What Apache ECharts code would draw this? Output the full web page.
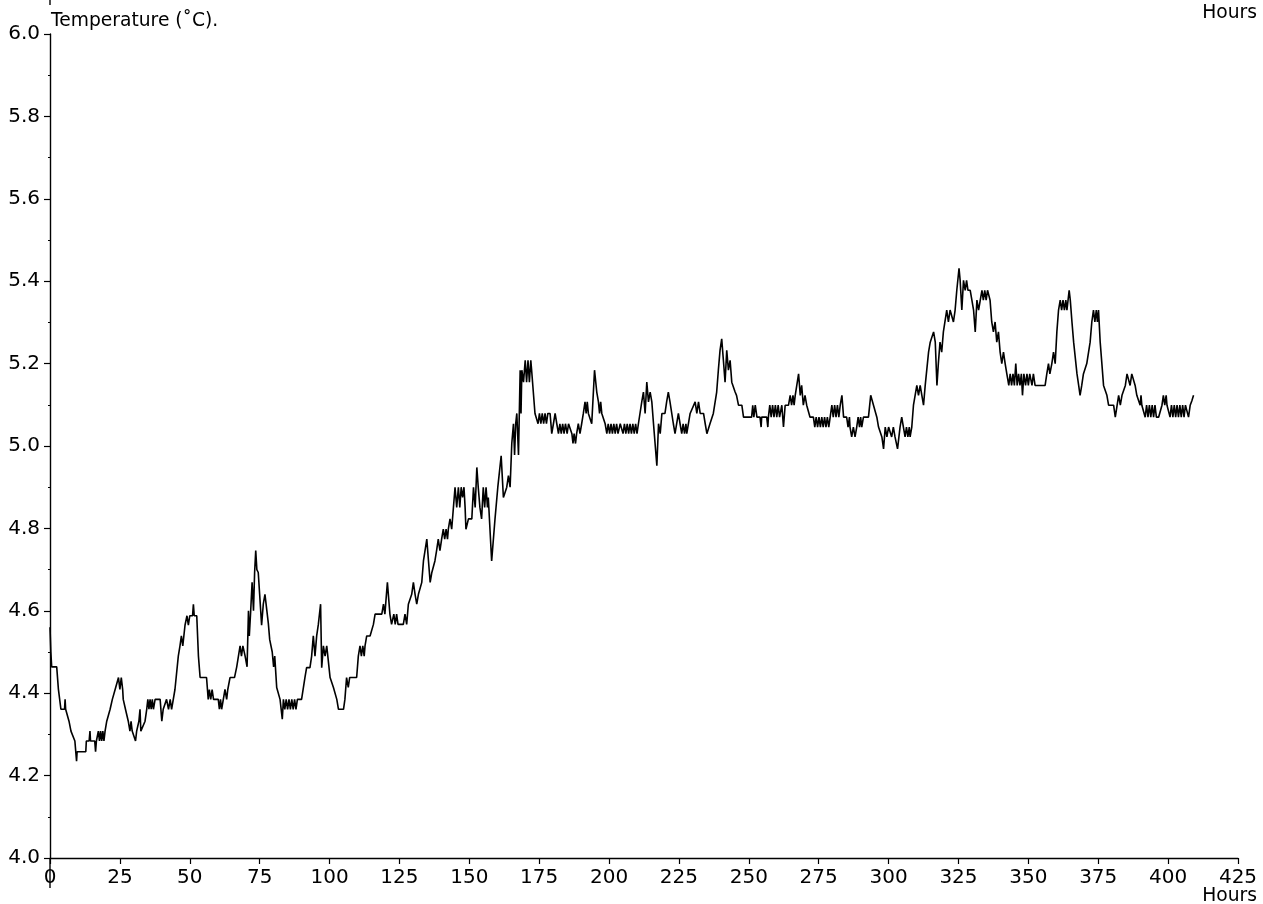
<!DOCTYPE html>
<html>
<head>
<meta charset="utf-8">
<script src="https://cdn.jsdelivr.net/npm/echarts@6/dist/echarts.min.js"></script>
<style>
html,body{margin:0;padding:0;background:#fff;}
#chart{width:1263px;height:904px;}
</style>
</head>
<body>
<div id="chart"></div>
<script>
// ---- Data ----
const yAxisTitle = "Temperature (˚C).";
const xAxisTitle = "Hours";
const xMin = 0, xMax = 425, xStep = 25;
const yMin = 4.0, yMax = 6.0, yStep = 0.2;

// [hour, temperature °C]
const readings = [
[0,4.56],[0.3,4.50],[0.6,4.464],[2.4,4.464],[3.0,4.41],[3.9,4.361],[5.2,4.361],[5.4,4.385],[5.6,4.361],[6.0,4.361],
[6.8,4.332],[7.5,4.308],[8.0,4.308],[8.9,4.284],[9.3,4.284],[9.5,4.235],[9.7,4.258],[12.8,4.258],[13.0,4.284],[14.0,4.284],
[14.3,4.308],[14.5,4.284],[16.0,4.284],[16.3,4.258],[16.6,4.284],[17.3,4.308],[17.7,4.284],[18.1,4.308],[18.5,4.284],[18.9,4.308],
[19.3,4.284],[19.7,4.308],[20.3,4.332],[21.0,4.332],[21.5,4.361],[22.3,4.385],[23.3,4.409],[24.0,4.409],[24.5,4.438],[25.0,4.409],
[25.5,4.438],[26.0,4.409],[26.2,4.385],[27.0,4.361],[27.4,4.361],[28.0,4.332],[28.6,4.308],[29.0,4.332],[29.4,4.308],[30.0,4.308],
[30.6,4.284],[31.0,4.308],[31.8,4.332],[32.2,4.361],[32.5,4.308],[33.0,4.308],[34.0,4.332],[34.6,4.361],[35.0,4.385],[35.4,4.361],
[35.8,4.385],[36.2,4.361],[36.6,4.385],[37.0,4.361],[37.6,4.385],[39.4,4.385],[40.0,4.332],[40.5,4.361],[41.7,4.385],[42.4,4.361],
[43.0,4.385],[43.5,4.361],[44.0,4.361],[44.7,4.409],[45.9,4.490],[46.5,4.515],[47.0,4.539],[47.5,4.515],[48.3,4.565],[49.0,4.588],
[49.5,4.565],[50.0,4.588],[51.0,4.588],[51.3,4.616],[51.6,4.588],[52.5,4.588],[53.1,4.490],[53.7,4.438],[56.0,4.438],[56.6,4.385],
[57.0,4.409],[57.5,4.385],[58.0,4.409],[58.5,4.385],[60.2,4.385],[60.6,4.361],[61.0,4.385],[61.4,4.361],[62.0,4.361],[62.6,4.409],
[63.2,4.385],[63.6,4.409],[64.4,4.438],[66.0,4.438],[66.8,4.464],[68.0,4.515],[68.5,4.490],[69.0,4.515],[69.8,4.490],[70.5,4.464],
[71.0,4.600],[71.3,4.539],[71.8,4.600],[72.3,4.669],[72.8,4.600],[73.2,4.693],[73.6,4.746],[74.0,4.700],[74.5,4.693],[75.0,4.640],
[75.7,4.565],[76.3,4.616],[76.9,4.640],[77.5,4.640],[78.1,4.570],[78.6,4.530],[79.5,4.500],[80.0,4.464],[80.4,4.490],[81.1,4.414],
[82.3,4.385],
[83.1,4.337],[83.5,4.385],[84.0,4.361],[84.5,4.385],[85.0,4.361],[85.5,4.385],[86.0,4.361],[86.5,4.385],[87.0,4.361],[87.5,4.385],
[88.0,4.361],[88.5,4.385],[90.0,4.385],[91.2,4.438],[91.8,4.462],[93.0,4.462],[93.6,4.490],[94.2,4.539],[94.8,4.490],[95.4,4.539],
[96.0,4.567],[96.8,4.616],[97.2,4.462],[97.8,4.515],[98.4,4.490],[99.0,4.515],[100.2,4.438],[101.4,4.414],[102.6,4.385],[103.2,4.361],
[105.0,4.361],[105.5,4.385],[106.1,4.438],[106.7,4.414],[107.2,4.438],[109.7,4.438],[110.3,4.490],[110.9,4.515],[111.4,4.490],[111.9,4.515],
[112.4,4.490],[112.7,4.515],[113.3,4.539],[114.5,4.539],[115.7,4.567],[116.3,4.592],[118.7,4.592],[119.3,4.616],[119.8,4.592],[120.7,4.669],
[121.6,4.592],[122.2,4.567],[123.0,4.592],[123.5,4.567],[124.0,4.592],[124.5,4.567],[126.4,4.567],[127.0,4.592],[127.6,4.567],[128.2,4.616],
[129.4,4.640],[130.0,4.669],[130.6,4.640],[131.2,4.616],[131.8,4.640],[133.0,4.669],[133.6,4.721],[134.8,4.774],[135.4,4.721],[136.0,4.669],
[136.6,4.693],[137.7,4.721],[138.3,4.746],[138.9,4.774],[139.5,4.746],[140.1,4.774],[140.7,4.798],[141.2,4.774],[141.7,4.798],[142.2,4.774],
[142.5,4.798],[143.1,4.823],[143.7,4.798],[144.9,4.900],[145.5,4.851],[146.1,4.900],[146.6,4.851],[147.1,4.900],[147.6,4.875],[148.1,4.900],
[148.5,4.851],[148.8,4.798],[149.7,4.823],[150.9,4.823],[151.5,4.900],[152.1,4.851],[152.7,4.948],[153.2,4.900],[153.8,4.851],[154.4,4.823],
[155.0,4.900],[155.5,4.851],[156.0,4.900],[156.5,4.851],[156.8,4.875],[158.0,4.721],[159.2,4.823],[160.2,4.900],[161.4,4.976],[162.2,4.875],
[162.8,4.875],[163.4,4.900],
[164.0,4.928],[164.6,4.900],[165.2,5.006],[165.8,5.054],[166.2,4.978],[166.6,5.054],[167.0,5.079],[167.6,4.978],[168.2,5.184],[168.5,5.079],
[168.8,5.184],[169.4,5.155],[170.0,5.208],[170.5,5.155],[171.0,5.208],[171.5,5.155],[172.0,5.208],[172.3,5.184],[172.9,5.184],[173.5,5.079],
[174.1,5.079],[174.6,5.054],[175.1,5.079],[175.6,5.054],[176.1,5.079],[176.6,5.054],[177.1,5.079],[177.6,5.054],[178.1,5.079],[178.9,5.079],
[179.5,5.030],[180.1,5.054],[180.7,5.079],[181.3,5.054],[181.9,5.030],[182.4,5.054],[182.9,5.030],[183.4,5.054],[183.9,5.030],[184.4,5.054],
[185.0,5.030],[185.5,5.054],[186.7,5.030],[187.1,5.006],[187.5,5.030],[188.0,5.006],[188.4,5.030],[189.0,5.054],[189.6,5.030],[190.2,5.054],
[190.8,5.079],[191.4,5.107],[191.8,5.079],[192.2,5.107],[192.6,5.079],[193.8,5.054],[194.8,5.184],[195.6,5.131],[196.2,5.107],[196.6,5.079],
[197.0,5.107],[197.4,5.079],[198.6,5.054],[199.2,5.030],[199.7,5.054],[200.2,5.030],[200.7,5.054],[201.2,5.030],[201.7,5.054],[202.2,5.030],
[202.7,5.054],[203.2,5.030],[204.0,5.054],[204.5,5.054],[205.0,5.030],[205.5,5.054],[206.0,5.030],[206.5,5.054],[207.0,5.030],[207.5,5.054],
[208.0,5.030],[208.5,5.054],[209.0,5.030],[209.5,5.054],[210.0,5.030],[210.5,5.054],[211.1,5.054],[211.7,5.107],[212.3,5.131],[212.9,5.079],
[213.5,5.155],[214.1,5.107],[214.7,5.131],[215.3,5.107],[215.9,5.054],[217.1,4.952],[217.7,5.054],[218.3,5.030],[218.9,5.079],[220.0,5.079],
[220.6,5.107],[221.2,5.131],[221.8,5.107],[223.0,5.054],[223.6,5.030],[224.8,5.079],[225.4,5.054],[226.0,5.030],[226.5,5.054],[227.0,5.030],
[227.5,5.054],[227.8,5.030],[229.0,5.079],[230.8,5.107],[231.4,5.079],[232.0,5.107],[232.6,5.079],[233.8,5.079],[234.4,5.054],[235.0,5.030],
[236.1,5.054],[237.3,5.079],[238.5,5.131],[239.1,5.184],[239.7,5.232],[240.3,5.260],[240.9,5.208],[241.5,5.155],[242.1,5.232],[242.7,5.184],
[243.3,5.208],[243.9,5.155],[244.5,5.155],[245.1,5.131],
[245.6,5.123],[246.3,5.099],[247.5,5.099],[248.1,5.070],[251.0,5.070],[251.4,5.099],[251.8,5.070],[252.3,5.099],[252.9,5.070],[254.0,5.070],
[254.4,5.046],[254.6,5.070],[256.4,5.070],[256.8,5.046],[257.0,5.070],[257.5,5.099],[258.0,5.070],[258.5,5.099],[259.0,5.070],[259.5,5.099],
[260.0,5.070],[260.5,5.099],[261.0,5.070],[261.8,5.099],[262.4,5.046],[263.0,5.099],[264.2,5.099],[264.8,5.123],[265.3,5.099],[265.8,5.123],
[266.2,5.099],[266.6,5.123],[267.8,5.175],[268.4,5.123],[268.9,5.147],[269.5,5.099],[270.1,5.123],[270.7,5.099],[271.9,5.070],[273.1,5.070],
[273.6,5.046],[274.1,5.070],[274.6,5.046],[275.1,5.070],[275.6,5.046],[276.1,5.070],[276.6,5.046],[277.1,5.070],[277.6,5.046],[278.1,5.070],
[278.6,5.046],[279.1,5.070],[279.7,5.099],[280.2,5.070],[280.7,5.099],[281.2,5.070],[281.7,5.099],[282.2,5.070],[282.7,5.099],[283.3,5.123],
[283.9,5.070],[285.0,5.070],[285.5,5.046],[286.0,5.070],[286.2,5.046],[286.8,5.022],[287.4,5.046],[288.0,5.022],[288.6,5.046],[289.1,5.070],
[289.6,5.046],[290.0,5.070],[290.4,5.046],[291.0,5.070],[292.8,5.070],[293.6,5.123],[294.6,5.099],[295.8,5.070],[296.4,5.046],[297.6,5.022],
[298.2,4.993],[298.8,5.046],[299.4,5.022],[300.0,5.046],[301.1,5.022],[301.7,5.046],[302.3,5.022],[303.2,4.993],[304.1,5.046],[304.7,5.070],
[305.3,5.046],[305.9,5.022],[306.4,5.046],[306.9,5.022],[307.4,5.046],[307.7,5.022],[308.3,5.046],[308.9,5.099],[310.1,5.147],[310.7,5.123],
[311.3,5.147],[311.9,5.123],[312.5,5.099],[313.1,5.147],[314.3,5.228],[314.9,5.252],[316.1,5.277],[316.7,5.252],[317.3,5.147],[317.8,5.200],
[318.4,5.252],[319.0,5.228],[319.6,5.277],[320.2,5.277],[320.8,5.330],[321.4,5.301],[322.0,5.330],[323.2,5.301],[323.8,5.330],[324.4,5.378],
[325.2,5.431],[325.6,5.402],[326.2,5.330],[326.8,5.402],[327.4,5.378],[327.9,5.402],[328.4,5.378],
[329.2,5.378],[329.8,5.354],[330.4,5.330],[331.0,5.277],[331.6,5.354],[332.2,5.330],[332.8,5.354],[333.4,5.378],[333.9,5.354],[334.4,5.378],
[334.9,5.354],[335.4,5.378],[336.3,5.354],[336.9,5.301],[337.5,5.277],[338.1,5.301],[338.7,5.252],[339.3,5.277],[339.9,5.228],[340.5,5.200],
[341.1,5.228],[341.7,5.200],[342.3,5.175],[343.0,5.147],[343.5,5.175],[344.0,5.147],[344.5,5.175],[345.0,5.147],[345.5,5.200],[346.0,5.147],
[346.5,5.175],[347.0,5.147],[347.5,5.175],[347.9,5.123],[348.4,5.175],[349.0,5.147],[349.5,5.175],[350.0,5.147],[350.5,5.175],[351.3,5.147],
[351.8,5.175],[352.4,5.147],[353.0,5.147],[356.0,5.147],[356.6,5.175],[357.2,5.200],[357.7,5.175],[358.4,5.200],[359.0,5.228],[359.6,5.200],
[360.2,5.277],[360.8,5.330],[361.4,5.354],[361.9,5.330],[362.4,5.354],[362.9,5.330],[363.4,5.354],[363.8,5.330],[364.6,5.378],[365.0,5.354],
[365.6,5.301],[366.2,5.252],[367.4,5.175],[368.0,5.147],[368.5,5.123],[369.1,5.147],[369.7,5.175],[370.9,5.200],[371.5,5.200],[372.1,5.252],
[372.7,5.301],[373.3,5.330],[373.8,5.301],[374.3,5.330],[374.7,5.301],[375.1,5.330],[375.7,5.252],[376.3,5.200],[376.9,5.147],[378.1,5.123],
[378.7,5.099],[380.5,5.099],[381.1,5.070],[381.7,5.070],[382.3,5.123],[382.9,5.099],[383.5,5.123],[384.1,5.123],[384.7,5.147],[385.3,5.175],
[385.9,5.175],[386.4,5.147],[387.0,5.175],[387.6,5.175],[388.2,5.147],[388.8,5.123],[390.0,5.099],[390.3,5.123],[390.6,5.099],[391.8,5.070],
[392.3,5.099],[392.8,5.070],[393.3,5.099],[393.8,5.070],[394.3,5.099],[394.8,5.070],[395.3,5.099],[395.8,5.070],[396.6,5.070],[397.8,5.099],
[398.3,5.123],[398.8,5.099],[399.3,5.123],[399.6,5.099],[400.2,5.099],[400.7,5.070],[401.2,5.099],[401.7,5.070],[402.2,5.099],[402.7,5.070],
[403.2,5.099],[403.7,5.070],[404.2,5.099],[404.7,5.070],[405.2,5.099],[405.7,5.070],[406.2,5.099],[407.3,5.070],[407.9,5.099],[408.5,5.110],
[409.1,5.123]
];

const chart = echarts.init(document.getElementById('chart'), null, {renderer:'canvas'});
const FONT = '"DejaVu Sans", Arial, Helvetica, sans-serif';
const option = {
  backgroundColor: '#ffffff',
  animation: false,
  grid: {left: 50, right: 25, top: 34, bottom: 46, containLabel: false},
  xAxis: {
    type: 'value', min: xMin, max: xMax, interval: xStep,
    axisLine: {show: true, onZero: false, lineStyle: {color: '#000', width: 1.4}},
    axisTick: {show: true, inside: false, length: 6, lineStyle: {color: '#000', width: 1.2}},
    axisLabel: {color: '#000', fontFamily: FONT, fontSize: 20, margin: 10},
    splitLine: {show: false}
  },
  yAxis: {
    type: 'value', min: yMin, max: yMax, interval: yStep,
    name: yAxisTitle, nameLocation: 'end', nameGap: 3,
    nameTextStyle: {color: '#000', fontFamily: FONT, fontSize: 18.7, align: 'left', verticalAlign: 'bottom', padding: [0,0,0,1]},
    axisLine: {show: true, lineStyle: {color: '#000', width: 1.4}},
    axisTick: {show: true, inside: false, length: 6, lineStyle: {color: '#000', width: 1.2}},
    minorTick: {show: true, splitNumber: 2, length: 2, lineStyle: {color: '#000', width: 1}},
    axisLabel: {color: '#000', fontFamily: FONT, fontSize: 20, margin: 10, formatter: v => v.toFixed(1)},
    splitLine: {show: false}
  },
  graphic: [
    {type: 'line', shape: {x1: 50, y1: 858, x2: 50, y2: 888}, style: {stroke: '#000', lineWidth: 1.4}},
    {type: 'line', shape: {x1: 50, y1: 0, x2: 50, y2: 5}, style: {stroke: '#000', lineWidth: 1.4}},
    {type: 'text', right: 6, top: 4, style: {text: xAxisTitle, fill: '#000', font: '18.7px ' + FONT}},
    {type: 'text', right: 6, top: 887, style: {text: xAxisTitle, fill: '#000', font: '18.7px ' + FONT}}
  ],
  series: [{
    type: 'line',
    data: readings,
    showSymbol: false,
    symbol: 'none',
    smooth: false,
    lineStyle: {color: '#000', width: 1.6},
    clip: false
  }]
};
chart.setOption(option);
</script>
</body>
</html>
